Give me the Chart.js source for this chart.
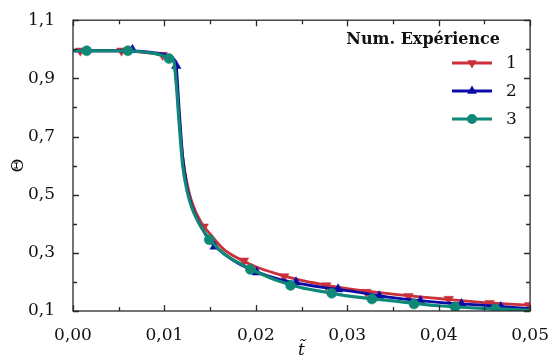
<!DOCTYPE html>
<html>
<head>
<meta charset="utf-8">
<script src="https://cdn.jsdelivr.net/npm/chart.js@4.4.1/dist/chart.umd.min.js"></script>
<style>
  html, body { margin: 0; padding: 0; background: #fff; }
</style>
</head>
<body>
<canvas id="c" width="555" height="358"></canvas>
<script>
// ---- data ----
const lineT = [0, 0.005, 0.009, 0.0105, 0.011, 0.0113, 0.0116, 0.012, 0.0125, 0.013, 0.014, 0.015,
  0.0165, 0.018, 0.02, 0.0225, 0.025, 0.0275, 0.03, 0.035, 0.04, 0.045, 0.05];

const theta1 = [0.995, 0.995, 0.985, 0.975, 0.965, 0.89, 0.77, 0.63, 0.535, 0.475, 0.405, 0.365,
  0.312, 0.282, 0.252, 0.226, 0.205, 0.19, 0.177, 0.158, 0.143, 0.129, 0.12];
const theta2 = [0.995, 0.995, 0.988, 0.978, 0.968, 0.94, 0.8, 0.63, 0.52, 0.46, 0.39, 0.34,
  0.297, 0.265, 0.236, 0.21, 0.193, 0.18, 0.17, 0.146, 0.13, 0.119, 0.108];
const theta3 = [0.995, 0.995, 0.985, 0.972, 0.962, 0.88, 0.75, 0.6, 0.51, 0.455, 0.39, 0.345,
  0.297, 0.268, 0.236, 0.203, 0.18, 0.166, 0.152, 0.135, 0.118, 0.109, 0.103];

const mark1T = [0.0008, 0.0053, 0.0098, 0.0143, 0.0187, 0.0231, 0.0277, 0.0321, 0.0367, 0.0411, 0.0456, 0.0499];
const mark1Y = [0.995, 0.995, 0.98, 0.39, 0.273, 0.219, 0.188, 0.165, 0.151, 0.141, 0.127, 0.12];
const mark2T = [0.0065, 0.0113, 0.0155, 0.0201, 0.0244, 0.029, 0.0335, 0.038, 0.0425, 0.0468];
const mark2Y = [0.998, 0.943, 0.322, 0.233, 0.199, 0.175, 0.151, 0.134, 0.124, 0.114];
const mark3T = [0.0015, 0.006, 0.0105, 0.0149, 0.0194, 0.0238, 0.0283, 0.0327, 0.0373, 0.0418, 0.0462];
const mark3Y = [0.995, 0.995, 0.968, 0.345, 0.243, 0.188, 0.161, 0.141, 0.124, 0.114, 0.107];

const seriesNames = ['1', '2', '3'];
const xTicks = [0, 0.01, 0.02, 0.03, 0.04, 0.05];
const xTickLabels = ['0,00', '0,01', '0,02', '0,03', '0,04', '0,05'];
const yTicks = [0.1, 0.3, 0.5, 0.7, 0.9, 1.1];
const yTickLabels = ['0,1', '0,3', '0,5', '0,7', '0,9', '1,1'];

const RED = '#c9303b';
const BLUE = '#0b0ba6';
const TEAL = '#0f8877';
const SERIF = '"DejaVu Serif", serif';

const pts = (xs, ys) => xs.map((x, i) => ({ x, y: ys[i] }));

const styles = [
  { color: RED, point: 'triangle', rot: 180, r: 5.5, width: 2.8, order: 2 },
  { color: BLUE, point: 'triangle', rot: 0, r: 5.5, width: 2.8, order: 1 },
  { color: TEAL, point: 'circle', rot: 0, r: 5, width: 3.2, order: 0 },
];
const lines = [theta1, theta2, theta3];
const marks = [[mark1T, mark1Y], [mark2T, mark2Y], [mark3T, mark3Y]];

const datasets = [];
styles.forEach((s, i) => {
  datasets.push({
    label: seriesNames[i],
    data: pts(lineT, lines[i]),
    showLine: true,
    borderColor: s.color,
    borderWidth: s.width,
    pointRadius: 0,
    cubicInterpolationMode: 'monotone',
    order: s.order,
  });
  datasets.push({
    label: seriesNames[i] + ' markers',
    data: pts(marks[i][0], marks[i][1]),
    showLine: false,
    pointStyle: s.point,
    pointRotation: s.rot,
    pointRadius: s.r,
    pointBackgroundColor: s.color,
    pointBorderColor: s.color,
    pointBorderWidth: 0.5,
    order: s.order,
  });
});

// box, inward ticks and the legend inside the plot
const frame = {
  id: 'frame',
  afterDraw(chart) {
    const { ctx, chartArea: a, scales: { x, y } } = chart;
    ctx.save();
    ctx.strokeStyle = '#2a2a2a';
    ctx.lineWidth = 1.3;
    ctx.beginPath();
    for (let i = 0; i <= 10; i++) {
      const px = Math.round(x.getPixelForValue(i * 0.005)) + 0.5;
      const len = i % 2 ? 4 : 6;
      ctx.moveTo(px, a.bottom); ctx.lineTo(px, a.bottom - len);
      ctx.moveTo(px, a.top); ctx.lineTo(px, a.top + len);
    }
    for (let i = 1; i <= 11; i++) {
      const py = Math.round(y.getPixelForValue(i / 10)) + 0.5;
      const len = i % 2 ? 6 : 4;
      ctx.moveTo(a.left, py); ctx.lineTo(a.left + len, py);
      ctx.moveTo(a.right, py); ctx.lineTo(a.right - len, py);
    }
    ctx.stroke();
    ctx.strokeRect(a.left, a.top, a.right - a.left, a.bottom - a.top);

    // legend
    ctx.fillStyle = '#111';
    ctx.font = 'bold 16px ' + SERIF;
    ctx.textAlign = 'right';
    ctx.textBaseline = 'middle';
    ctx.fillText('Num. Expérience', 500, 40);
    ctx.font = '17px ' + SERIF;
    ctx.textAlign = 'left';
    styles.forEach((s, i) => {
      const yy = 63 + i * 28;
      ctx.strokeStyle = s.color;
      ctx.lineWidth = s.width;
      ctx.beginPath();
      ctx.moveTo(452, yy); ctx.lineTo(492, yy);
      ctx.stroke();
      ctx.fillStyle = s.color;
      Chart.helpers.drawPoint(ctx, { pointStyle: s.point, radius: s.r, rotation: s.rot, borderWidth: 0 }, 472, yy);
      ctx.fillStyle = '#111';
      ctx.fillText(seriesNames[i], 506, yy + 1);
    });
    ctx.restore();
  },
};

new Chart(document.getElementById('c'), {
  type: 'scatter',
  data: { datasets },
  plugins: [frame],
  options: {
    responsive: false,
    animation: false,
    layout: { padding: { left: 4, right: 21, top: 17, bottom: 0 } },
    plugins: { legend: { display: false }, tooltip: { enabled: false } },
    scales: {
      x: {
        type: 'linear', min: 0, max: 0.05,
        grid: { display: false },
        border: { display: false },
        afterBuildTicks: (s) => { s.ticks = xTicks.map((v) => ({ value: v })); },
        afterFit: (s) => { s.height = 47; },
        ticks: {
          color: '#111', padding: 6, maxRotation: 0, autoSkip: false,
          font: { family: SERIF, size: 17 },
          callback: (v) => xTickLabels[xTicks.findIndex((t) => Math.abs(t - v) < 1e-9)],
        },
        title: {
          display: true, text: 't\u0303', color: '#111',
          font: { family: SERIF, size: 17, style: 'italic' },
          padding: { top: 0, bottom: -3 },
        },
      },
      y: {
        min: 0.1, max: 1.1,
        grid: { display: false },
        border: { display: false },
        afterBuildTicks: (s) => { s.ticks = yTicks.map((v) => ({ value: v })); },
        afterFit: (s) => { s.width = 69; },
        ticks: {
          color: '#111', padding: 10, autoSkip: false,
          font: { family: SERIF, size: 17 },
          callback: (v) => yTickLabels[yTicks.findIndex((t) => Math.abs(t - v) < 1e-9)],
        },
        title: {
          display: true, text: 'Θ', color: '#111',
          font: { family: SERIF, size: 17 },
          padding: { top: 4, bottom: 4 },
        },
      },
    },
  },
});
</script>
</body>
</html>
